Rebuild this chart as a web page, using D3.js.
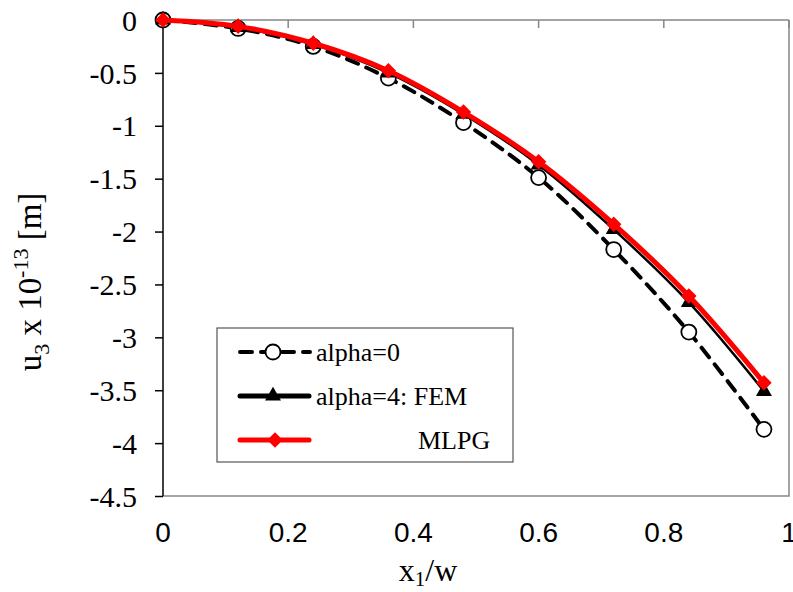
<!DOCTYPE html>
<html><head><meta charset="utf-8">
<script src="https://cdn.jsdelivr.net/npm/d3@7"></script>
<style>body{margin:0;background:#fff}svg{display:block}</style>
</head><body>
<script>
const xValues = [0, 0.12, 0.24, 0.36, 0.48, 0.6, 0.72, 0.84, 0.96];
const alpha0 = [0, -0.08, -0.25, -0.55, -0.97, -1.49, -2.17, -2.95, -3.87];
const alpha4FEM = [0, -0.07, -0.23, -0.50, -0.89, -1.37, -1.98, -2.67, -3.51];
const alpha4MLPG = [0, -0.06, -0.22, -0.48, -0.87, -1.34, -1.93, -2.61, -3.43];
const xTicks = [0, 0.2, 0.4, 0.6, 0.8, 1];
const yTicks = [0, -0.5, -1, -1.5, -2, -2.5, -3, -3.5, -4, -4.5];
const legendLabels = ["alpha=0", "alpha=4: FEM", "MLPG"];

const SERIF = "'Liberation Serif', 'Times New Roman', serif";
const SANS = "'Liberation Sans', Arial, sans-serif";
const W = 793, H = 592;
const svg = d3.select("body").append("svg").attr("width", W).attr("height", H);
const x = d3.scaleLinear().domain([0, 1]).range([163, 789]);
const y = d3.scaleLinear().domain([-4.5, 0]).range([496, 20]);
const gray = "#868686";

// plot border (right, bottom)
svg.append("path").attr("d", `M${x(1)},${y(0)}V${y(-4.5)}H${x(0)}`)
  .attr("fill", "none").attr("stroke", gray).attr("stroke-width", 1.5);

// x axis at y=0 (top)
const xAxis = svg.append("g").attr("transform", `translate(0,${y(0)})`);
xAxis.append("line").attr("x1", x(0)).attr("x2", x(1)).attr("stroke", gray).attr("stroke-width", 1.5);
xAxis.selectAll("line.t").data(xTicks.slice(1)).enter().append("line").attr("class", "t")
  .attr("x1", d => x(d)).attr("x2", d => x(d)).attr("y1", 0).attr("y2", 8)
  .attr("stroke", gray).attr("stroke-width", 1.5);
svg.selectAll("text.xt").data(xTicks).enter().append("text").attr("class", "xt")
  .attr("x", d => x(d)).attr("y", 542).attr("text-anchor", "middle")
  .style("font-family", SANS).style("font-size", "28px")
  .text(d => String(d));

// y axis
const yAxis = svg.append("g").attr("transform", `translate(${x(0)},0)`)
  .call(d3.axisLeft(y).tickValues(yTicks).tickSize(8).tickFormat(d => String(d)));
yAxis.select(".domain").attr("stroke", "#000").attr("stroke-width", 1.5).attr("d", `M0,${y(0)}V${y(-4.5)}`);
yAxis.selectAll(".tick line").attr("stroke", "#000").attr("stroke-width", 1.5);
yAxis.selectAll(".tick text")
  .style("font-family", SERIF).style("font-size", "30px")
  .attr("fill", "#000").attr("x", -26).attr("dy", "0.34em");

// axis titles
const xt = svg.append("text").attr("x", 428).attr("y", 581).attr("text-anchor", "middle")
  .style("font-family", SERIF).style("font-size", "32px");
xt.append("tspan").text("x");
xt.append("tspan").style("font-size", "21px").attr("dy", 5).text("1");
xt.append("tspan").attr("dy", -5).text("/w");

const yt = svg.append("text").attr("transform", "translate(41,282) rotate(-90)").attr("text-anchor", "middle")
  .style("font-family", SERIF).style("font-size", "33px");
yt.append("tspan").text("u");
yt.append("tspan").style("font-size", "22px").attr("dy", 8).text("3");
yt.append("tspan").attr("dy", -8).text(" x 10");
yt.append("tspan").style("font-size", "22px").attr("dy", -13).text("-13");
yt.append("tspan").attr("dy", 13).text(" [m]");

const line = d3.line().x((d, i) => x(xValues[i])).y(d => y(d)).curve(d3.curveCatmullRom.alpha(0.5));

// alpha=0 dashed
svg.append("path").attr("d", line(alpha0)).attr("fill", "none").attr("stroke", "#000")
  .attr("stroke-width", 4).attr("stroke-dasharray", "12,9").attr("stroke-linecap", "round");
svg.selectAll("circle.a0").data(alpha0).enter().append("circle").attr("class", "a0")
  .attr("cx", (d, i) => x(xValues[i])).attr("cy", d => y(d)).attr("r", 7.5)
  .attr("fill", "#fff").attr("stroke", "#000").attr("stroke-width", 1.8);

// FEM
svg.append("path").attr("d", line(alpha4FEM)).attr("fill", "none").attr("stroke", "#000")
  .attr("stroke-width", 2.5);
svg.selectAll("path.fem").data(alpha4FEM).enter().append("path").attr("class", "fem")
  .attr("transform", (d, i) => `translate(${x(xValues[i])},${y(d)})`)
  .attr("d", d3.symbol().type(d3.symbolTriangle).size(110)()).attr("fill", "#000");

// MLPG
svg.append("path").attr("d", line(alpha4MLPG)).attr("fill", "none").attr("stroke", "#ff0000")
  .attr("stroke-width", 5);
svg.selectAll("path.ml").data(alpha4MLPG).enter().append("path").attr("class", "ml")
  .attr("transform", (d, i) => `translate(${x(xValues[i])},${y(d)}) rotate(45)`)
  .attr("d", d3.symbol().type(d3.symbolSquare).size(120)()).attr("fill", "#ff0000");

// legend
const lg = svg.append("g");
lg.append("rect").attr("x", 217).attr("y", 328).attr("width", 296).attr("height", 134)
  .attr("fill", "#fff").attr("stroke", "#555").attr("stroke-width", 1.2);
const rows = [352, 396, 440];
lg.append("line").attr("x1", 240).attr("x2", 310).attr("y1", rows[0]).attr("y2", rows[0])
  .attr("stroke", "#000").attr("stroke-width", 4).attr("stroke-dasharray", "12,9").attr("stroke-linecap", "round");
lg.append("circle").attr("cx", 273).attr("cy", rows[0]).attr("r", 7.5).attr("fill", "#fff").attr("stroke", "#000").attr("stroke-width", 1.8);
lg.append("line").attr("x1", 240).attr("x2", 309).attr("y1", rows[1]).attr("y2", rows[1])
  .attr("stroke", "#000").attr("stroke-width", 5).attr("stroke-linecap", "round");
lg.append("path").attr("transform", `translate(273,${rows[1]})`).attr("d", d3.symbol().type(d3.symbolTriangle).size(110)()).attr("fill", "#000");
lg.append("line").attr("x1", 240).attr("x2", 309).attr("y1", rows[2]).attr("y2", rows[2])
  .attr("stroke", "#ff0000").attr("stroke-width", 5).attr("stroke-linecap", "round");
lg.append("path").attr("transform", `translate(275,${rows[2]}) rotate(45)`).attr("d", d3.symbol().type(d3.symbolSquare).size(120)()).attr("fill", "#ff0000");
lg.selectAll("text").data(legendLabels).enter().append("text")
  .attr("x", (d, i) => i === 2 ? 418 : 316).attr("y", (d, i) => rows[i]).attr("dy", "0.34em")
  .style("font-family", SERIF).style("font-size", "26px")
  .text(d => d);
</script>
</body></html>
